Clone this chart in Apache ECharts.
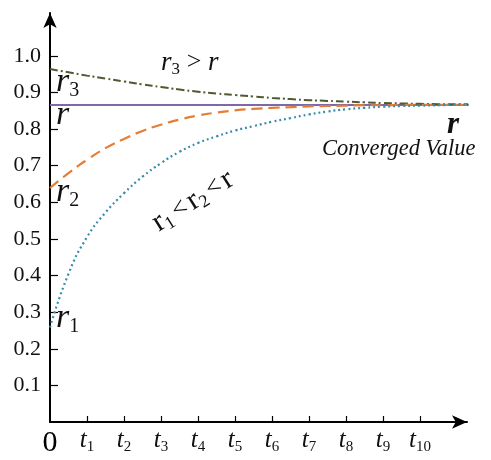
<!DOCTYPE html>
<html>
<head>
<meta charset="utf-8">
<script src="https://cdn.jsdelivr.net/npm/echarts@6/dist/echarts.min.js"></script>
<style>
  html, body { margin: 0; padding: 0; background: #fff; }
  #chart { width: 491px; height: 460px; }
</style>
</head>
<body>
<div id="chart"></div>
<script>
const tPoints = [0, 0.5, 1, 1.5, 2, 2.5, 3, 3.5, 4, 4.5, 5, 5.5, 6, 6.5, 7, 7.5, 8, 8.5, 9, 9.5, 10, 10.5, 11, 11.7];
const r1Values = [0.258, 0.405, 0.505, 0.572, 0.625, 0.67, 0.707, 0.738, 0.762, 0.78, 0.796, 0.808, 0.82, 0.83, 0.84, 0.848, 0.854, 0.858, 0.861, 0.863, 0.864, 0.865, 0.866, 0.866];
const r2Values = [0.639, 0.68, 0.716, 0.748, 0.773, 0.795, 0.812, 0.826, 0.837, 0.845, 0.851, 0.855, 0.858, 0.86, 0.862, 0.863, 0.864, 0.865, 0.865, 0.866, 0.866, 0.866, 0.866, 0.866];
const r3Values = [0.964, 0.955, 0.946, 0.938, 0.93, 0.922, 0.915, 0.908, 0.902, 0.897, 0.893, 0.889, 0.885, 0.882, 0.879, 0.877, 0.875, 0.873, 0.871, 0.87, 0.869, 0.868, 0.868, 0.867];
const rValue = 0.866;
const rLine = [[0, rValue], [11.7, rValue]];

const xTickValues = [1, 2, 3, 4, 5, 6, 7, 8, 9, 10];
const xLabelValues = [0, 1, 2, 3, 4, 5, 6, 7, 8, 9, 10];
const yTickValues = [0.1, 0.2, 0.3, 0.4, 0.5, 0.6, 0.7, 0.8, 0.9, 1.0];

const serif = 'Liberation Serif';

const pairs = (vals) => tPoints.map((t, i) => [t, vals[i]]);

// italic r with a plain subscript
const rSub = (size, subSize, drop) => ({
    i: { fontFamily: serif, fontStyle: 'italic', fontSize: size, fill: '#111' },
    s: { fontFamily: serif, fontSize: subSize, fill: '#111', padding: [drop, 0, 0, 0] }
});

const getOption = () => {
    return {
        animation: false,
        grid: { left: 50, right: 24, top: 13, bottom: 38 },
        xAxis: {
            type: 'value',
            min: 0,
            max: 11.27,
            splitLine: { show: false },
            axisLine: {
                lineStyle: { color: '#000', width: 2 },
                symbol: ['none', 'arrow'],
                symbolSize: [10, 15]
            },
            axisTick: {
                customValues: xTickValues,
                inside: true,
                length: 6,
                lineStyle: { color: '#000', width: 1.2 }
            },
            axisLabel: {
                customValues: xLabelValues,
                margin: 4,
                formatter: (v) => v === 0 ? '{z|0}' : '{t|t}{s|' + v + '}',
                rich: {
                    z: { fontFamily: serif, fontSize: 30, color: '#000', padding: [2, 0, 0, 0] },
                    t: { fontFamily: serif, fontSize: 25, fontStyle: 'italic', color: '#111' },
                    s: { fontFamily: serif, fontSize: 15, color: '#111', padding: [14, 0, 0, 0] }
                }
            }
        },
        yAxis: {
            type: 'value',
            min: 0,
            max: 1.117,
            splitLine: { show: false },
            axisLine: {
                lineStyle: { color: '#000', width: 2 },
                symbol: ['none', 'arrow'],
                symbolSize: [10, 15]
            },
            axisTick: {
                customValues: yTickValues,
                inside: true,
                length: 8,
                lineStyle: { color: '#000', width: 1.2 }
            },
            axisLabel: {
                customValues: yTickValues,
                margin: 9,
                fontFamily: serif,
                fontSize: 22,
                color: '#111',
                formatter: (v) => v.toFixed(1)
            }
        },
        series: [
            {
                name: 'r',
                type: 'line',
                data: rLine,
                showSymbol: false,
                clip: false,
                lineStyle: { color: '#7d68a8', width: 2 },
                z: 3
            },
            {
                name: 'r3',
                type: 'line',
                data: pairs(r3Values),
                smooth: true,
                showSymbol: false,
                clip: false,
                lineStyle: { color: '#4e5a30', width: 2, type: [8, 3, 2, 3] }
            },
            {
                name: 'r2',
                type: 'line',
                data: pairs(r2Values),
                smooth: true,
                showSymbol: false,
                clip: false,
                lineStyle: { color: '#e57d35', width: 2.2, type: [11, 6] }
            },
            {
                name: 'r1',
                type: 'line',
                data: pairs(r1Values),
                smooth: true,
                showSymbol: false,
                clip: false,
                lineStyle: { color: '#3a8cab', width: 2.2, type: [2, 3] }
            }
        ],
        graphic: [
            {
                type: 'text', left: 161, top: 49,
                style: {
                    text: '{i|r}{s|3}  {o|>}  {i|r}',
                    rich: Object.assign(rSub(27, 17, 14), {
                        o: { fontFamily: serif, fontSize: 26, fill: '#111' }
                    })
                }
            },
            {
                type: 'text', left: 56, top: 65,
                style: { text: '{i|r}{s|3}', rich: rSub(34, 20, 18) }
            },
            {
                type: 'text', left: 56, top: 98,
                style: { text: 'r', font: 'italic 34px ' + serif, fill: '#111' }
            },
            {
                type: 'text', left: 56, top: 175,
                style: { text: '{i|r}{s|2}', rich: rSub(34, 20, 18) }
            },
            {
                type: 'text', left: 56, top: 301,
                style: { text: '{i|r}{s|1}', rich: rSub(34, 20, 18) }
            },
            {
                type: 'text', x: 193, y: 201, rotation: 0.56,
                style: {
                    text: '{i|r}{s|1} {o|<} {i|r}{s|2} {o|<} {i|r}',
                    align: 'center', verticalAlign: 'middle',
                    rich: {
                        i: { fontFamily: serif, fontSize: 30, fill: '#111' },
                        s: { fontFamily: serif, fontSize: 18, fill: '#111', padding: [14, 0, 0, 0] },
                        o: { fontFamily: serif, fontSize: 26, fill: '#111' }
                    }
                }
            },
            {
                type: 'text', left: 447, top: 109,
                style: { text: 'r', font: 'italic bold 31px ' + serif, fill: '#111' }
            },
            {
                type: 'text', left: 322, top: 138,
                style: { text: 'Converged Value', font: 'italic 22.5px ' + serif, fill: '#111' }
            }
        ]
    };
};

window.addEventListener('load', () => {
    const chart = echarts.init(document.getElementById('chart'));
    chart.setOption(getOption());
});
</script>
</body>
</html>
